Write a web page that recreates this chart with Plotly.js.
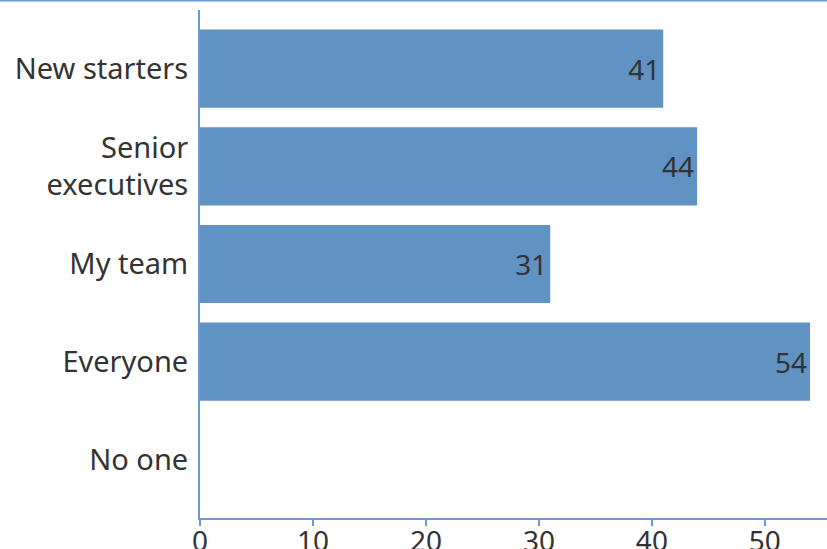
<!DOCTYPE html>
<html>
<head>
<meta charset="utf-8">
<script src="https://cdn.plot.ly/plotly-3.0.1.min.js"></script>
<style>html,body{margin:0;padding:0;background:#fff;}#chart{width:827px;height:549px;}</style>
</head>
<body>
<div id="chart"></div>
<script>
const categories = ["New starters", "Senior<br>executives", "My team", "Everyone", "No one"];
const values = [41, 44, 31, 54, 0];
const xTicks = [0, 10, 20, 30, 40, 50];

const barColor = "#6092c3";
const axisColor = "#6a9bd0";
const fontFam = "'Noto Sans', sans-serif";

const trace = {
  type: "bar",
  orientation: "h",
  y: categories,
  x: values,
  text: values.map(v => v ? String(v) : ""),
  textposition: "inside",
  insidetextanchor: "end",
  insidetextfont: {family: fontFam, size: 28, color: "#333333"},
  textangle: 0,
  marker: {color: barColor, line: {width: 0}},
  hoverinfo: "none",
  cliponaxis: false
};

const layout = {
  width: 827, height: 549,
  margin: {l: 200, r: 0, t: 10, b: 31, pad: 0},
  paper_bgcolor: "#ffffff",
  plot_bgcolor: "#ffffff",
  font: {family: fontFam, size: 29, color: "#333333"},
  bargap: 0.2,
  showlegend: false,
  xaxis: {
    range: [0, 55.5],
    tickvals: xTicks,
    ticktext: xTicks.map(String),
    showgrid: false, zeroline: false,
    showline: true, linecolor: axisColor, linewidth: 2,
    ticks: "outside", ticklen: 6, tickwidth: 2, tickcolor: axisColor,
    ticklabelstandoff: -9,
    tickfont: {family: fontFam, size: 28, color: "#333333"},
    fixedrange: true
  },
  yaxis: {
    range: [4.6, -0.6],
    showgrid: false, zeroline: false,
    showline: true, linecolor: axisColor, linewidth: 2,
    ticks: "", ticklabelstandoff: 4,
    tickfont: {family: fontFam, size: 29, color: "#333333"},
    fixedrange: true
  },
  shapes: [{
    type: "line", xref: "paper", yref: "paper",
    x0: -1, x1: 1, y0: 1.0185, y1: 1.0185,
    line: {color: axisColor, width: 2}
  }]
};

Plotly.newPlot("chart", [trace], layout, {displayModeBar: false, staticPlot: true});
</script>
</body>
</html>
